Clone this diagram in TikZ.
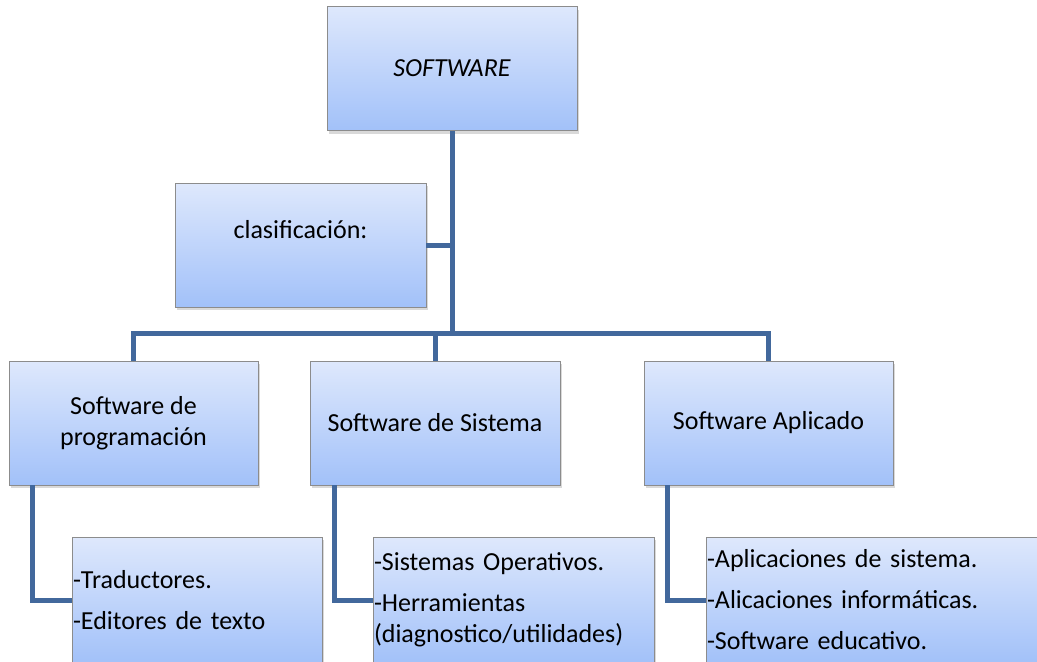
\documentclass[tikz,border=0pt]{standalone}
\usepackage{fontspec}
\setmainfont{Carlito}
\usetikzlibrary{shadows}
\definecolor{linkblue}{RGB}{66,104,156}
\definecolor{boxtop}{RGB}{222,232,252}
\definecolor{boxbottom}{RGB}{162,193,249}
\definecolor{boxline}{RGB}{140,140,140}

\begin{document}
\begin{tikzpicture}[
    x=0.5pt, y=-0.5pt,
    every node/.style={font=\fontsize{13}{15.5}\selectfont},
    box/.style={draw=boxline, line width=0.4pt, top color=boxtop, bottom color=boxbottom,
        minimum height=62pt, align=center, inner sep=2pt,
        drop shadow={shadow xshift=1.2pt, shadow yshift=-1.5pt, opacity=0.3}},
    list/.style={box, align=left, text width=#1, inner xsep=0.5pt, minimum height=63pt},
    link/.style={draw=linkblue, line width=2.5pt}
]
\useasboundingbox (0,0) rectangle (1037,661);
\clip (0,0) rectangle (1037,661);

% top and left boxes
\node [box, minimum width=125pt] (sw) at (452,68.5) {\itshape SOFTWARE};
\node [box, minimum width=125.5pt] (clas) at (300.5,245) {clasificación:\\~};

% second level
\node [box, minimum width=124.5pt] (prog) at (133.5,423) {Software de\\programación};
\node [box, minimum width=125pt] (sis) at (435,423) {Software de Sistema};
\node [box, minimum width=124.5pt] (apl) at (768.5,423) {Software Aplicado};

% lists
\node [list=124pt] (trad) at (197,600) {-Traductores.\\[5pt]-Editores de texto};
\node [list=139.5pt] (sop) at (513.5,600) {-Sistemas Operativos.\\[5pt]-Herramientas\\(diagnostico/utilidades)};
\node [list=171pt] (apps) at (878,600) {-Aplicaciones de sistema.\\[5pt]-Alicaciones informáticas.\\[5pt]-Software educativo.};

\coordinate (fork) at (452,333);

\draw [link] (sw.south) -- (fork);
\draw [link] (clas.east) -- (clas.east -| fork);
\draw [link] (prog.north) |- (fork) -| (apl.north);
\draw [link] (sis.north) -- (sis.north |- fork);

\draw [link] ([xshift=12pt]prog.south west) |- (trad.west);
\draw [link] ([xshift=12.5pt]sis.south west) |- (sop.west);
\draw [link] ([xshift=12pt]apl.south west) |- (apps.west);

\end{tikzpicture}
\end{document}
